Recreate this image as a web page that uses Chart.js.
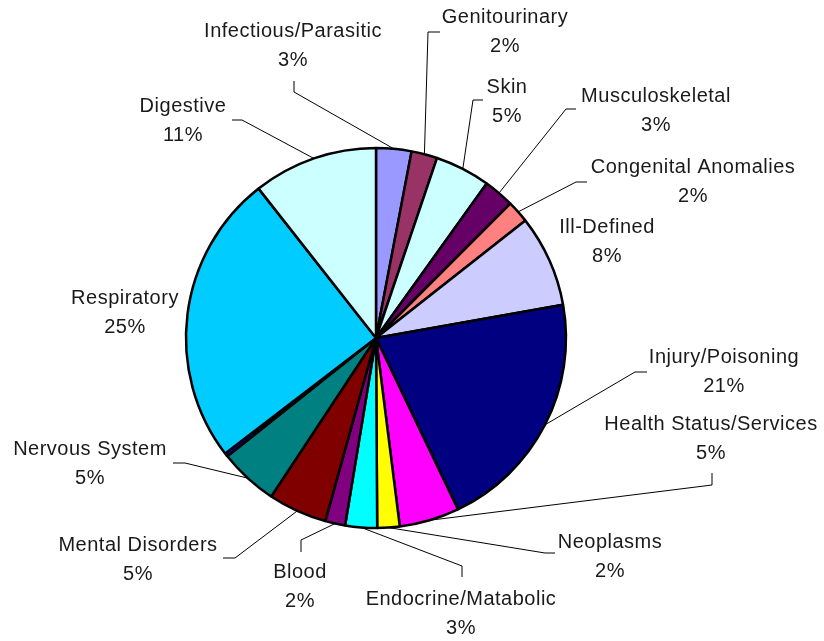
<!DOCTYPE html>
<html>
<head>
<meta charset="utf-8">
<script src="https://cdn.jsdelivr.net/npm/chart.js@4/dist/chart.umd.min.js"></script>
<style>
  html, body { margin: 0; padding: 0; background: #ffffff; }
  #wrap { width: 824px; height: 641px; }
</style>
</head>
<body>
<div id="wrap"><canvas id="c" width="824" height="641"></canvas></div>
<script>
// ---- data ----
const categories = [
  "Infectious/Parasitic", "Genitourinary", "Skin", "Musculoskeletal",
  "Congenital Anomalies", "Ill-Defined", "Injury/Poisoning", "Health Status/Services",
  "Neoplasms", "Endocrine/Matabolic", "Blood", "Mental Disorders",
  "Nervous System", "Other", "Respiratory", "Digestive"
];
const shares = [3.0, 2.2, 4.7, 2.6, 1.9, 7.8, 20.7, 5.1, 1.9, 2.7, 1.7, 5.0, 5.0, 0.3, 24.8, 10.6];
const sliceColors = [
  "#9999FF", "#993366", "#CCFFFF", "#660066",
  "#FF8080", "#CCCCFF", "#000080", "#FF00FF",
  "#FFFF00", "#00FFFF", "#800080", "#800000",
  "#008080", "#0000FF", "#00CCFF", "#CCFFFF"
];

// ---- label placement (text centre, leader-line elbow points) ----
const labelLayout = [
  { x: 293, y: 31, path: [[294, 81], [294, 92]] },
  { x: 505, y: 17, path: [[440, 32], [428, 32]] },
  { x: 507, y: 87, path: [[483, 100], [473, 100]] },
  { x: 656, y: 96, path: [[576, 109], [566, 109]] },
  { x: 693, y: 167, path: [[587, 182], [576, 182]] },
  { x: 607, y: 227, path: null },
  { x: 724, y: 357, path: [[647, 372], [635, 372]] },
  { x: 711, y: 424, path: [[712, 473], [712, 485]] },
  { x: 610, y: 542, path: [[555, 553], [545, 553]] },
  { x: 461, y: 599, path: [[462, 577], [462, 566]] },
  { x: 300, y: 572, path: [[301, 552], [301, 540]] },
  { x: 138, y: 545, path: [[223, 558], [235, 558]] },
  { x: 90,  y: 449, path: [[173, 463], [185, 463]] },
  null,
  { x: 125, y: 298, path: null },
  { x: 183, y: 106, path: [[232, 120], [242, 120]] }
];

const outsideLabels = {
  id: 'outsideLabels',
  afterDatasetsDraw(chart) {
    const ctx = chart.ctx;
    const meta = chart.getDatasetMeta(0);
    const data = chart.data.datasets[0].data;
    const total = data.reduce((a, b) => a + b, 0);
    ctx.save();
    ctx.font = '20px "Liberation Sans", Arial, sans-serif';
    if ('letterSpacing' in ctx) ctx.letterSpacing = '0.5px';
    ctx.textAlign = 'center';
    ctx.textBaseline = 'middle';
    ctx.fillStyle = '#1a1a1a';
    ctx.strokeStyle = '#000000';
    ctx.lineWidth = 1;
    meta.data.forEach((arc, i) => {
      const lay = labelLayout[i];
      if (!lay) return;
      const p = arc.getProps(['x', 'y', 'startAngle', 'endAngle', 'outerRadius'], true);
      const mid = (p.startAngle + p.endAngle) / 2;
      const ex = p.x + Math.cos(mid) * p.outerRadius;
      const ey = p.y + Math.sin(mid) * p.outerRadius;
      if (lay.path) {
        ctx.beginPath();
        ctx.moveTo(lay.path[0][0], lay.path[0][1]);
        for (let k = 1; k < lay.path.length; k++) ctx.lineTo(lay.path[k][0], lay.path[k][1]);
        ctx.lineTo(ex, ey);
        ctx.stroke();
      }
      const pct = Math.round(data[i] / total * 100) + '%';
      ctx.fillText(chart.data.labels[i], lay.x, lay.y);
      ctx.fillText(pct, lay.x, lay.y + 29);
    });
    ctx.restore();
  }
};

new Chart(document.getElementById('c'), {
  type: 'pie',
  data: {
    labels: categories,
    datasets: [{
      data: shares,
      backgroundColor: sliceColors,
      borderColor: '#000000',
      borderWidth: 2.5
    }]
  },
  options: {
    responsive: false,
    animation: false,
    radius: 190,
    layout: { padding: { left: 0, right: 72, top: 35, bottom: 0 } },
    plugins: {
      legend: { display: false },
      tooltip: { enabled: false },
      title: { display: false }
    }
  },
  plugins: [outsideLabels]
});
</script>
</body>
</html>
